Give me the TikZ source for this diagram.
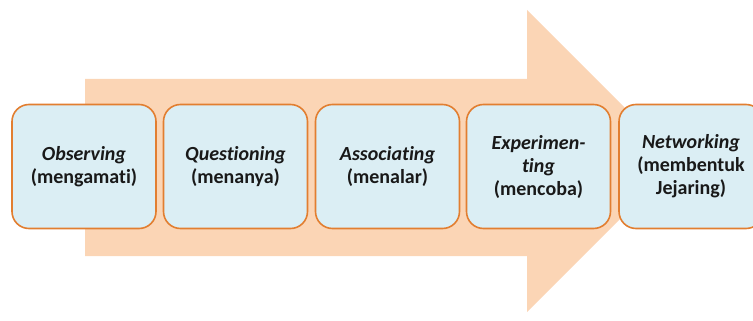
\documentclass[tikz,border=0pt]{standalone}
\usepackage{fontspec}
\setmainfont{Carlito}[Ligatures=NoCommon]
\definecolor{arrowpeach}{RGB}{251,213,181}
\definecolor{boxblue}{RGB}{219,238,244}
\definecolor{boxedge}{RGB}{226,126,48}
\tikzset{
	stepbox/.style={draw=boxedge, line width=1.6pt, fill=boxblue, rounded corners=17pt,
		minimum width=144pt, minimum height=124pt, align=center,
		font=\fontsize{20}{23}\selectfont\bfseries, text=black!90},
}

\begin{document}
\begin{tikzpicture}[x=1pt,y=-1pt]
	\useasboundingbox (0,0) rectangle (753,321);
	% big arrow behind the boxes
	\fill[arrowpeach] (85,79) -- (527,79) -- (527,10) -- (678,161)
		-- (527,312) -- (527,256) -- (85,256) -- cycle;
	\node[stepbox] at (84,166.5) (s1) {\textit{Observing}\\(mengamati)};
	\node[stepbox] at (235.5,166.5) (s2) {\textit{Questioning}\\(menanya)};
	\node[stepbox] at (387.5,166.5) (s3) {\textit{Associating}\\(menalar)};
	\node[stepbox] at (538.5,166.5) (s4) {\textit{Experimen-}\\\textit{ting}\\(mencoba)};
	\node[stepbox] at (691,166.5) (s5) {\textit{Networking}\\(membentuk\\Jejaring)};
\end{tikzpicture}
\end{document}
